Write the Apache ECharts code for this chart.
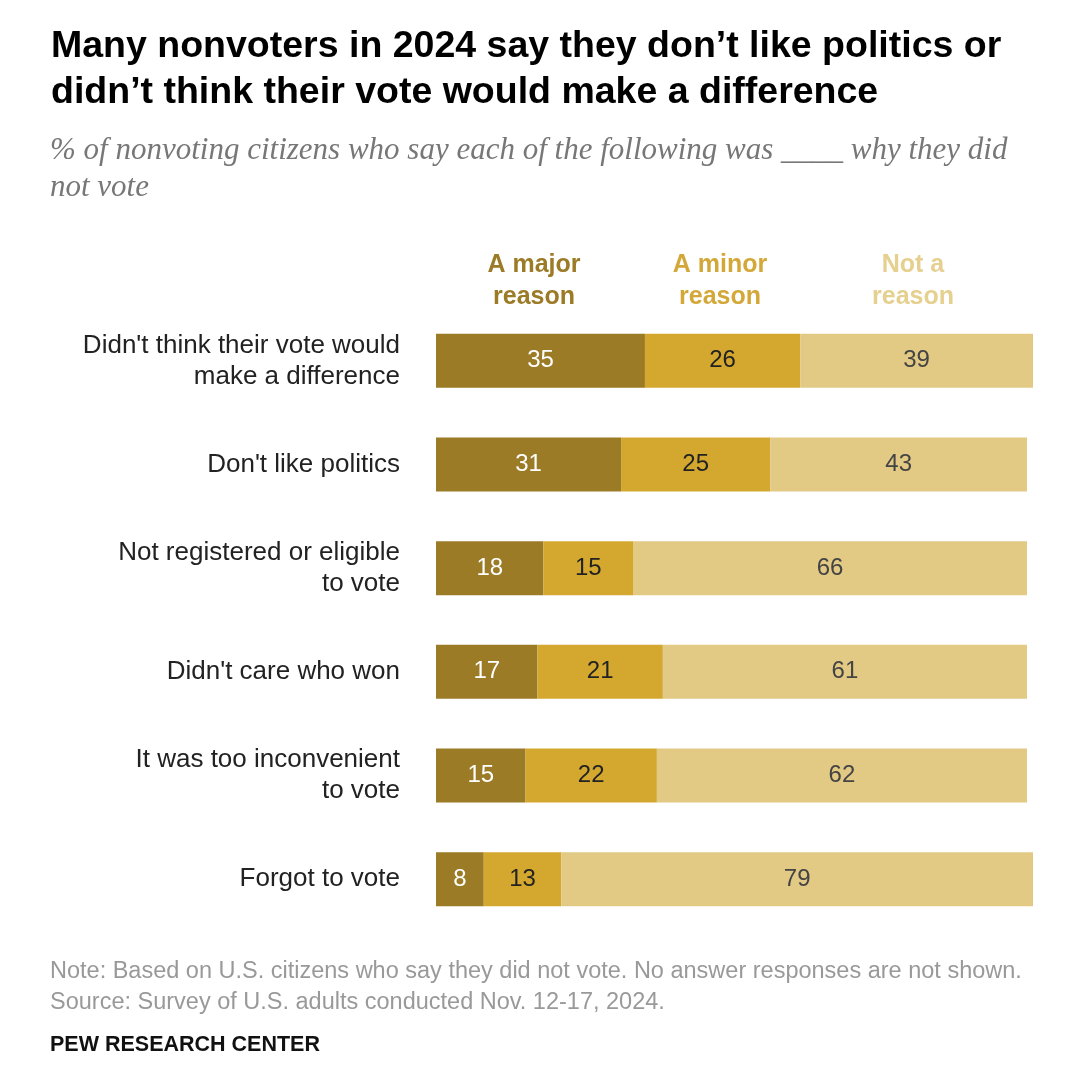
<!DOCTYPE html>
<html><head><meta charset="utf-8">
<script src="https://cdn.jsdelivr.net/npm/echarts@6/dist/echarts.min.js"></script>
<style>html,body{margin:0;padding:0;background:#fff}#c{width:1080px;height:1076px}</style>
</head><body><div id="c"></div>
<script>
const categories = ["Didn't think their vote would\nmake a difference","Don't like politics","Not registered or eligible\nto vote","Didn't care who won","It was too inconvenient\nto vote","Forgot to vote"];
const seriesNames = ["A major\nreason","A minor\nreason","Not a\nreason"];
const majorReason = [35,31,18,17,15,8];
const minorReason = [26,25,15,21,22,13];
const notReason = [39,43,66,61,62,79];

const colors = ['#9c7b27','#d4a82f','#e2ca84'];
const legendColors = ['#9c7b27','#d3a838','#e6d08f'];
const labelColors = ['#ffffff','#222222','#444444'];
const vals = [majorReason, minorReason, notReason];

const chart = echarts.init(document.getElementById('c'));
const sans = '"Liberation Sans", Arial, sans-serif';
chart.setOption({
  backgroundColor:'#fff',
  animation:false,
  grid:{left:436,right:47,top:309,bottom:145,containLabel:false},
  xAxis:{type:'value',min:0,max:100,show:false},
  yAxis:{type:'category',data:categories,inverse:true,
    axisLine:{show:false},axisTick:{show:false},
    axisLabel:{margin:36,color:'#222',fontSize:26,lineHeight:31,fontFamily:sans,align:'right'}},
  series: vals.map((v,i)=>({
    type:'bar',name:seriesNames[i],stack:'t',data:v,barWidth:54,
    itemStyle:{color:colors[i]},
    label:{show:true,position:'inside',color:labelColors[i],fontSize:24,fontFamily:sans}
  })),
  graphic:[
    {type:'text',left:51,top:24,style:{text:"Many nonvoters in 2024 say they don\u2019t like politics or\ndidn\u2019t think their vote would make a difference",font:'bold 37.5px '+sans,lineHeight:46,fill:'#000'}},
    {type:'text',left:50,top:132,style:{text:"% of nonvoting citizens who say each of the following was ____ why they did\nnot vote",font:'italic 31px "Liberation Serif", Georgia, serif',lineHeight:37,fill:'#777'}},
    ...seriesNames.map((s,i)=>({type:'text',x:[534,720,913][i],y:249,style:{text:s,font:'bold 25px '+sans,lineHeight:32,fill:legendColors[i],align:'center'}})),
    {type:'text',left:50,top:956,style:{text:"Note: Based on U.S. citizens who say they did not vote. No answer responses are not shown.\nSource: Survey of U.S. adults conducted Nov. 12-17, 2024.",font:'23.5px '+sans,lineHeight:31,fill:'#999'}},
    {type:'text',left:50,top:1034,style:{text:"PEW RESEARCH CENTER",font:'bold 21.5px '+sans,fill:'#111'}}
  ]
});
</script></body></html>
